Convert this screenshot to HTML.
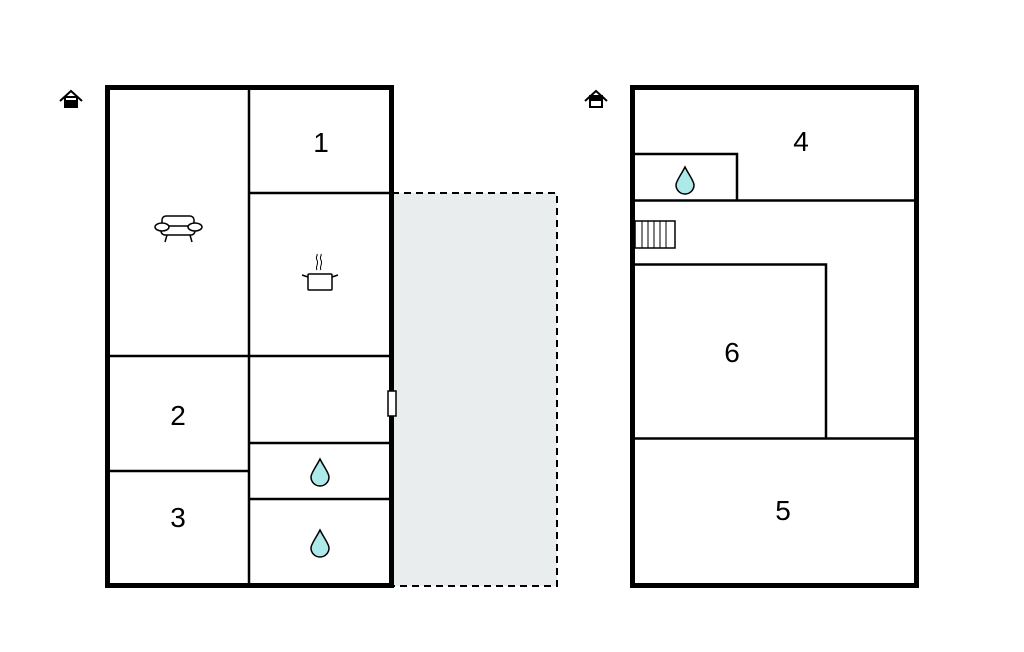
<!DOCTYPE html>
<html><head><style>html,body{margin:0;padding:0;background:#fff;}svg{display:block}</style></head>
<body>
<svg width="1024" height="652" viewBox="0 0 1024 652" xmlns="http://www.w3.org/2000/svg" font-family="Liberation Sans, sans-serif">
<defs>
<g id="drop"><path d="M0,-13 C-4,-5 -9,1 -9,5 A9,9 0 0 0 9,5 C9,1 4,-5 0,-13 Z" fill="#aee9ea" stroke="#000" stroke-width="1.5"/></g>
</defs>
<rect x="392" y="193" width="165" height="393" fill="#e9eded" stroke="#000" stroke-width="2" stroke-dasharray="7,5"/>
<g stroke="#000" fill="none">
<rect x="107.5" y="87.5" width="284" height="498" stroke-width="5" fill="#fff"/>
<line x1="249" y1="87" x2="249" y2="586" stroke-width="2.5"/>
<line x1="249" y1="193" x2="392" y2="193" stroke-width="2.5"/>
<line x1="107" y1="356" x2="392" y2="356" stroke-width="2.5"/>
<line x1="107" y1="471" x2="249" y2="471" stroke-width="2.5"/>
<line x1="249" y1="443" x2="392" y2="443" stroke-width="2.5"/>
<line x1="249" y1="499" x2="392" y2="499" stroke-width="2.5"/>
</g>
<rect x="388" y="391" width="8" height="25" fill="#fff" stroke="#000" stroke-width="1.5"/>
<use href="#drop" x="320" y="472"/>
<use href="#drop" x="320" y="543"/>
<g stroke="#000" stroke-width="1.5" fill="#fff">
<rect x="162" y="216" width="32" height="12" rx="4"/>
<rect x="161" y="226" width="34" height="9" rx="4"/>
<ellipse cx="162" cy="227" rx="7" ry="4"/>
<ellipse cx="195" cy="227" rx="7" ry="4"/>
<line x1="167" y1="235" x2="165" y2="242"/>
<line x1="190" y1="235" x2="192" y2="242"/>
</g>
<g stroke="#000" stroke-width="1.5" fill="#fff">
<rect x="308" y="274" width="24" height="16" rx="1"/>
<path d="M308,277 L302,275 M332,277 L338,275" />
<path d="M317,270 c-2,-3 2,-6 0,-10 c-2,-3 1,-4 0,-6 M321,270 c-2,-3 2,-6 0,-10 c-2,-3 1,-4 0,-6" fill="none" stroke-width="1"/>
</g>
<g stroke="#000" stroke-width="2" fill="none">
<path d="M60,101 L71,91 L82,101"/>
<rect x="65" y="97" width="12" height="10" fill="#fff"/>
<rect x="65" y="101" width="12" height="6" fill="#000"/>
<path d="M585,101 L596,91 L607,101"/>
<rect x="590" y="96" width="12" height="11" fill="#fff"/>
<rect x="590" y="96" width="12" height="4" fill="#000"/>
</g>
<g stroke="#000" fill="none">
<rect x="632.5" y="87.5" width="284" height="498" stroke-width="5" fill="#fff"/>
<line x1="632" y1="200.5" x2="917" y2="200.5" stroke-width="2.5"/>
<polyline points="632,154 737,154 737,200" stroke-width="2.5"/>
<polyline points="632,264.5 826,264.5 826,438" stroke-width="2.5"/>
<line x1="632" y1="438.5" x2="917" y2="438.5" stroke-width="2.5"/>
<rect x="635" y="221" width="40" height="27" stroke-width="1.5"/>
<g stroke-width="1">
<line x1="642" y1="221" x2="642" y2="248"/><line x1="648" y1="221" x2="648" y2="248"/>
<line x1="654" y1="221" x2="654" y2="248"/><line x1="660" y1="221" x2="660" y2="248"/>
<line x1="666" y1="221" x2="666" y2="248"/>
</g>
</g>
<use href="#drop" x="685" y="180"/>
<g font-size="28" text-anchor="middle" fill="#000">
<text x="321" y="152">1</text>
<text x="178" y="425">2</text>
<text x="178" y="527">3</text>
<text x="801" y="151">4</text>
<text x="783" y="520">5</text>
<text x="732" y="362">6</text>
</g>
</svg>
</body></html>
